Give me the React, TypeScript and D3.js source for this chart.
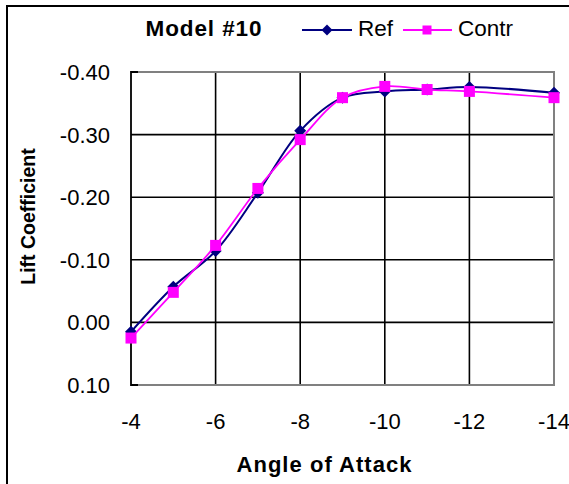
import { useEffect, useRef } from 'react';
import * as d3 from 'd3';

// Angle of attack (deg) — note there is no reading at -13
const angles = [-4, -5, -6, -7, -8, -9, -10, -11, -12, -14];
const refValues = [0.015, -0.057, -0.114, -0.207, -0.306, -0.359, -0.369, -0.372, -0.376, -0.367];
const contrValues = [0.025, -0.048, -0.123, -0.214, -0.292, -0.359, -0.377, -0.372, -0.369, -0.359];

const xTicks = [-4, -6, -8, -10, -12, -14];
const xTickLabels = ['-4', '-6', '-8', '-10', '-12', '-14'];
const yTicks = [-0.4, -0.3, -0.2, -0.1, 0, 0.1];
const yTickLabels = ['-0.40', '-0.30', '-0.20', '-0.10', '0.00', '0.10'];

const FONT = '"Liberation Sans", Arial, sans-serif';

export default function App() {
  const ref = useRef<SVGSVGElement | null>(null);

  useEffect(() => {
    const svg = d3.select(ref.current);
    svg.selectAll('*').remove();

    const width = 569;
    const height = 484;
    const plot = { left: 131, right: 554, top: 72, bottom: 385 };

    const x = d3.scaleLinear().domain([-4, -14]).range([plot.left, plot.right]);
    const y = d3.scaleLinear().domain([-0.4, 0.1]).range([plot.top, plot.bottom]);

    svg.attr('viewBox', `0 0 ${width} ${height}`).style('font-family', FONT);

    svg.append('rect').attr('width', width).attr('height', height).attr('fill', '#fff');

    // chart-area border (only top and left are visible in the frame)
    svg
      .append('path')
      .attr('d', `M7,${height} V6 H${width}`)
      .attr('fill', 'none')
      .attr('stroke', '#000')
      .attr('stroke-width', 2);

    // gridlines
    const grid = svg.append('g').attr('stroke', '#000').attr('stroke-width', 1.6);
    grid
      .selectAll('line.h')
      .data(yTicks.slice(1, -1))
      .join('line')
      .attr('x1', plot.left)
      .attr('x2', plot.right)
      .attr('y1', (d) => y(d))
      .attr('y2', (d) => y(d));
    grid
      .selectAll('line.v')
      .data(xTicks.slice(1, -1))
      .join('line')
      .attr('x1', (d) => x(d))
      .attr('x2', (d) => x(d))
      .attr('y1', plot.top)
      .attr('y2', plot.bottom);

    // plot area border: grey on top/right/bottom, black value axis on the left
    svg
      .append('path')
      .attr('d', `M${plot.left},${plot.top} H${plot.right} V${plot.bottom} H${plot.left}`)
      .attr('fill', 'none')
      .attr('stroke', '#808080')
      .attr('stroke-width', 2);
    svg
      .append('path')
      .attr('d', `M${plot.left + 7},${plot.top} H${plot.left} V${plot.bottom} H${plot.left + 7}`)
      .attr('fill', 'none')
      .attr('stroke', '#000')
      .attr('stroke-width', 1.8);

    // tick labels
    svg
      .append('g')
      .selectAll('text')
      .data(yTicks)
      .join('text')
      .attr('x', 110)
      .attr('y', (d) => y(d))
      .attr('dy', '0.36em')
      .attr('text-anchor', 'end')
      .attr('font-size', 22)
      .text((_, i) => yTickLabels[i]);
    svg
      .append('g')
      .selectAll('text')
      .data(xTicks)
      .join('text')
      .attr('x', (d) => x(d))
      .attr('y', 429)
      .attr('text-anchor', 'middle')
      .attr('font-size', 22)
      .text((_, i) => xTickLabels[i]);

    // series
    const line = d3
      .line<number>()
      .x((_, i) => x(angles[i]))
      .y((d) => y(d))
      .curve(d3.curveCatmullRom.alpha(0.5));

    const diamond = (cx: number, cy: number, r: number) =>
      `M${cx},${cy - r} L${cx + r},${cy} L${cx},${cy + r} L${cx - r},${cy} Z`;

    svg
      .append('path')
      .attr('d', line(refValues))
      .attr('fill', 'none')
      .attr('stroke', '#000080')
      .attr('stroke-width', 2);
    svg
      .append('g')
      .selectAll('path')
      .data(refValues)
      .join('path')
      .attr('d', (d, i) => diamond(x(angles[i]), y(d), 6))
      .attr('fill', '#000080');

    svg
      .append('path')
      .attr('d', line(contrValues))
      .attr('fill', 'none')
      .attr('stroke', '#ff00ff')
      .attr('stroke-width', 1.8);
    svg
      .append('g')
      .selectAll('rect')
      .data(contrValues)
      .join('rect')
      .attr('x', (_, i) => x(angles[i]) - 5.5)
      .attr('y', (d) => y(d) - 5.5)
      .attr('width', 11)
      .attr('height', 11)
      .attr('fill', '#ff00ff');

    // title + legend
    svg
      .append('text')
      .attr('x', 203.5)
      .attr('y', 36)
      .attr('text-anchor', 'middle')
      .attr('font-size', 22.5)
      .attr('font-weight', 'bold')
      .attr('textLength', 116)
      .attr('lengthAdjust', 'spacing')
      .text('Model #10');

    const lg = svg.append('g');
    lg.append('line').attr('x1', 302).attr('x2', 352).attr('y1', 30).attr('y2', 30).attr('stroke', '#000080').attr('stroke-width', 2);
    lg.append('path').attr('d', diamond(327, 30, 5.5)).attr('fill', '#000080');
    lg.append('text').attr('x', 358).attr('y', 36).attr('font-size', 22.5).text('Ref');
    lg.append('line').attr('x1', 403).attr('x2', 452).attr('y1', 30).attr('y2', 30).attr('stroke', '#ff00ff').attr('stroke-width', 1.8);
    lg.append('rect').attr('x', 422.5).attr('y', 25.5).attr('width', 9).attr('height', 9).attr('fill', '#ff00ff');
    lg.append('text').attr('x', 458).attr('y', 36).attr('font-size', 22.5).text('Contr');

    // axis titles
    svg
      .append('text')
      .attr('x', 324)
      .attr('y', 472)
      .attr('text-anchor', 'middle')
      .attr('font-size', 22)
      .attr('font-weight', 'bold')
      .attr('textLength', 175)
      .attr('lengthAdjust', 'spacing')
      .text('Angle of Attack');
    svg
      .append('text')
      .attr('transform', 'translate(35,216.5) rotate(-90)')
      .attr('text-anchor', 'middle')
      .attr('font-size', 19.5)
      .attr('font-weight', 'bold')
      .text('Lift Coefficient');
  }, []);

  return (
    <svg
      ref={ref}
      width={569}
      height={484}
      style={{ position: 'absolute', left: 0, top: 0, display: 'block' }}
    />
  );
}
